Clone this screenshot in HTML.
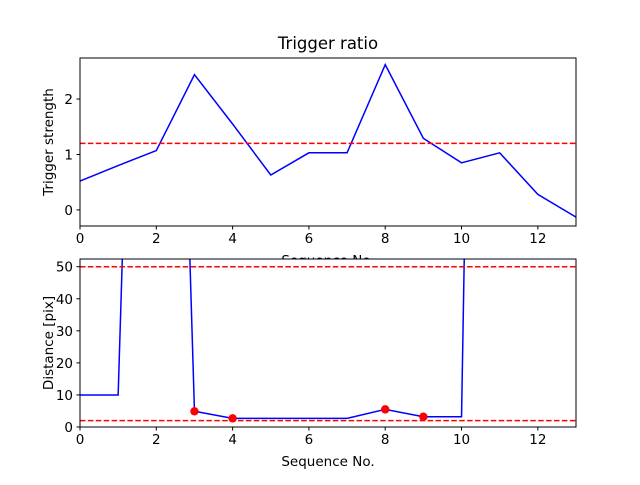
<!DOCTYPE html>
<html><head><meta charset="utf-8"><style>
body{margin:0;background:#fff}
svg text{font-family:"DejaVu Sans","Liberation Sans",sans-serif;fill:#000}
</style></head><body>
<svg id="c" width="640" height="480" xmlns="http://www.w3.org/2000/svg"></svg>
<script>
const seqX = [0,1,2,3,4,5,6,7,8,9,10,11,12,13];
const ratioValues = [0.52,0.80,1.07,2.44,1.55,0.63,1.03,1.03,2.62,1.29,0.85,1.03,0.28,-0.13];
const ratioThreshold = 1.2;
const distValues = [10,10,400,4.9,2.7,2.7,2.7,2.7,5.5,3.2,3.2,700,700,700];
const markerX = [3,4,8,9];
const markerValues = [4.9,2.7,5.5,3.2];
const distThresholds = [50,2];
const xTicks = [0,2,4,6,8,10,12];
const topYTicks = [0,1,2];
const botYTicks = [0,10,20,30,40,50];

const NS="http://www.w3.org/2000/svg", svg=document.getElementById('c');
function el(t,a,p){const e=document.createElementNS(NS,t);for(const k in a)e.setAttribute(k,a[k]);(p||svg).appendChild(e);return e;}
function txt(s,a,p){const e=el('text',a,p);e.textContent=s;return e;}

function axes(name,top,bot,ymin,ymax,yticks,vals,ylabel,xlabel,title){
  const L=80,R=576;
  const xs=v=>L+(v-0)/(13-0)*(R-L);
  const ys=v=>bot-(v-ymin)/(ymax-ymin)*(bot-top);
  const g=el('g',{});
  
  
  el('rect',{x:L,y:top,width:R-L,height:bot-top,fill:'#fff'},g);
  const cid=name+'-clip';
  const cp=el('clipPath',{id:cid},g);el('rect',{x:L,y:top,width:R-L,height:bot-top},cp);
  const pg=el('g',{'clip-path':'url(#'+cid+')'},g);
  return {g,pg,xs,ys,L,R,top,bot};
}
function frame(a,yticks,ylabel,xlabel,title,name){
  const {g,xs,ys,L,R,top,bot}=a;
  const f=el('rect',{x:L,y:top,width:R-L,height:bot-top,fill:'none',stroke:'#000','stroke-width':1},g);
  
  xTicks.forEach(t=>{const x=xs(t);el('line',{x1:x,x2:x,y1:bot,y2:bot+3.5,stroke:'#000'},g);
    const tt=txt(t,{x:x,y:bot+17,'font-size':13.5,'text-anchor':'middle'},g);
    });
  yticks.forEach(t=>{const y=ys(t);el('line',{x1:L-3.5,x2:L,y1:y,y2:y,stroke:'#000'},g);
    const tt=txt(t,{x:L-7,y:y+5,'font-size':13.5,'text-anchor':'end'},g);
    });
  const yl=txt(ylabel,{x:0,y:0,'font-size':13.5,'text-anchor':'middle',transform:`translate(${L-27},${(top+bot)/2}) rotate(-90)`},g);
  
  const xl=txt(xlabel,{x:(L+R)/2,y:bot+39,'font-size':13.5,'text-anchor':'middle'},g);
  
  if(title){const ti=txt(title,{x:(L+R)/2,y:top-9,'font-size':16.5,'text-anchor':'middle'},g);
    }
}

// top
const A=axes('top',58,226,-0.29,2.74);
let d=seqX.map((x,i)=>(i?'L':'M')+A.xs(x)+','+A.ys(ratioValues[i])).join('');
const l1=el('path',{d,fill:'none',stroke:'#0000ff','stroke-width':1.5},A.pg);

const th=el('line',{x1:A.L,x2:A.R,y1:A.ys(ratioThreshold),y2:A.ys(ratioThreshold),stroke:'#ff0000','stroke-width':1.5,'stroke-dasharray':'5.5,2.4'},A.pg);

frame(A,topYTicks,'Trigger strength','Sequence No.','Trigger ratio','top');

// bottom
const B=axes('bottom',259,427,0,52.4);
d=seqX.map((x,i)=>(i?'L':'M')+B.xs(x)+','+B.ys(distValues[i])).join('');
const l2=el('path',{d,fill:'none',stroke:'#0000ff','stroke-width':1.5},B.pg);

distThresholds.forEach(v=>{const t=el('line',{x1:B.L,x2:B.R,y1:B.ys(v),y2:B.ys(v),stroke:'#ff0000','stroke-width':1.5,'stroke-dasharray':'5.5,2.4'},B.pg);
  });
markerX.forEach((x,i)=>{const c=el('circle',{cx:B.xs(x),cy:B.ys(markerValues[i]),r:4.2,fill:'#ff0000'},B.g);
  });
frame(B,botYTicks,'Distance [pix]','Sequence No.',null,'bottom');
</script>
</body></html>
